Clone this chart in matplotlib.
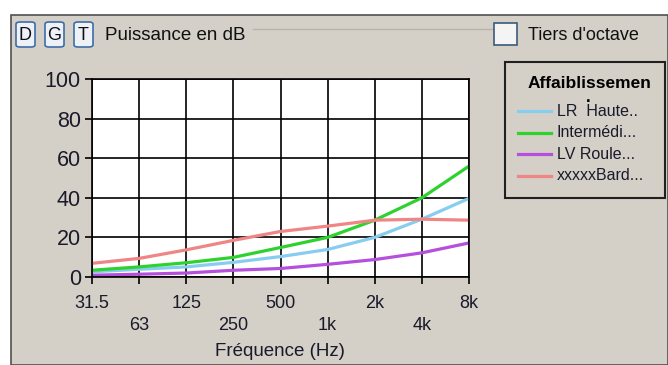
import numpy as np
import matplotlib.pyplot as plt
from matplotlib.patches import Rectangle, FancyBboxPatch
from matplotlib.lines import Line2D

# données
freqs = ['31.5', '63', '125', '250', '500', '1k', '2k', '4k', '8k']
lr_haute = [2.6, 3.9, 5.1, 7.4, 10.3, 13.9, 20, 29.2, 39.7]
intermedi = [3.4, 5.1, 7.2, 9.9, 14.9, 20, 28.7, 40, 56]
lv_roule = [0.9, 1.4, 2, 3.4, 4.3, 6.4, 8.8, 12.2, 17.2]
bard = [6.9, 9.4, 13.7, 18.5, 23, 25.7, 28.7, 29.2, 28.7]
noms = ['LR  Haute..', 'Intermédi...', 'LV Roule...', 'xxxxxBard...']
couleurs = ['#87cdef', '#2fd12f', '#b450dc', '#f08585']
yticks = [0, 20, 40, 60, 80, 100]

W, H = 668, 365
plt.rcParams['font.family'] = ['Liberation Sans', 'DejaVu Sans']
gris = '#d4d0c8'
texte = '#1a1a2a'


def px(x, y):
    # pixels -> coordonnées figure
    return x / W, 1 - y / H


fig = plt.figure(figsize=(W / 100, H / 100), dpi=100)
fig.patch.set_facecolor('white')

# panneau gris
fig.patches.append(Rectangle(px(11, 365), (W - 11) / W, (365 - 15) / H,
                             transform=fig.transFigure, facecolor=gris,
                             edgecolor='#505050', linewidth=1.2, zorder=-1))

# boutons D G T
for lettre, x0 in zip(['D', 'G', 'T'], [16, 45, 74]):
    fig.patches.append(FancyBboxPatch(px(x0, 47), 19 / W, 25 / H,
                                      boxstyle='round,pad=0,rounding_size=0.006',
                                      transform=fig.transFigure,
                                      facecolor='#eef2f8', edgecolor='#3c6ea8',
                                      linewidth=1.2, zorder=1))
    fig.text(*px(x0 + 9.5, 35), lettre, ha='center', va='center',
             fontsize=13, color='#101010')

fig.text(*px(105, 35), 'Puissance en dB', ha='left', va='center',
         fontsize=13.5, color='#101010')
fig.lines.append(Line2D([253 / W, 492 / W], [1 - 29 / H, 1 - 29 / H],
                        transform=fig.transFigure, color='#b8b4ac', linewidth=1))

# case à cocher
fig.patches.append(Rectangle(px(494, 45), 23 / W, 22 / H,
                             transform=fig.transFigure, facecolor='#f4f4f4',
                             edgecolor='#3c5a7a', linewidth=1.2, zorder=2))
fig.text(*px(528, 35), "Tiers d'octave", ha='left', va='center',
         fontsize=13, color='#101010')

# graphique
ax = fig.add_axes([92 / W, 1 - 277 / H, 377 / W, 198 / H])
ax.set_zorder(3)
ax.set_facecolor('white')
x = np.arange(len(freqs))
series = [lr_haute, intermedi, lv_roule, bard]
for vals, c in zip(series, couleurs):
    ax.plot(x, vals, color=c, linewidth=2.3, solid_capstyle='butt')

ax.set_xlim(0, len(freqs) - 1)
ax.set_ylim(0, 100)
ax.set_yticks(yticks)
ax.set_yticklabels([str(v) for v in yticks], fontsize=15.5, color=texte)
ax.set_xticks(x)
ax.set_xticklabels([f if i % 2 == 0 else '\n' + f for i, f in enumerate(freqs)],
                   fontsize=13, color=texte, linespacing=1.35)
ax.tick_params(axis='both', direction='out', length=5, width=1.2, color='black')
ax.tick_params(axis='y', pad=3)
ax.tick_params(axis='x', pad=8)
ax.grid(True, color='black', linewidth=1.2)
for s in ax.spines.values():
    s.set_color('black')
    s.set_linewidth(1.2)

fig.text(*px(280, 352), 'Fréquence (Hz)', ha='center', va='center',
         fontsize=13.5, color=texte)

# légende
fig.patches.append(Rectangle(px(505, 198), 160 / W, 136 / H,
                             transform=fig.transFigure, facecolor='none',
                             edgecolor='#202020', linewidth=1.5))
fig.text(*px(590, 83), 'Affaiblissemen', ha='center', va='center',
         fontsize=12.5, fontweight='bold', color='black')
fig.text(*px(588, 97), '.', ha='center', va='center', fontsize=12,
         fontweight='bold', color='black')
for nom, c, yy in zip(noms, couleurs, [111, 133, 154, 176]):
    fig.lines.append(Line2D([518 / W, 551 / W], [1 - yy / H, 1 - yy / H],
                            transform=fig.transFigure, color=c, linewidth=2.3))
    fig.text(*px(557, yy), nom, ha='left', va='center', fontsize=11.5,
             color=texte)

plt.savefig('out.png', dpi=100)
